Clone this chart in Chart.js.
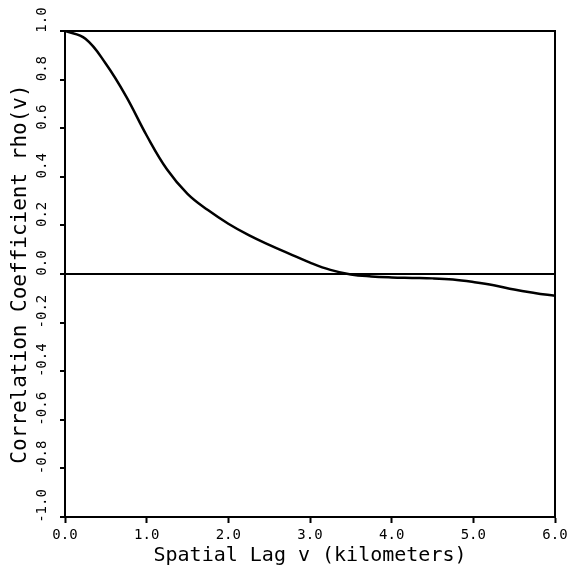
<!DOCTYPE html>
<html>
<head>
<meta charset="utf-8">
<script src="https://cdn.jsdelivr.net/npm/chart.js@4/dist/chart.umd.min.js"></script>
<style>
  html, body { margin: 0; padding: 0; background: #fff; }
  #wrap { width: 576px; height: 578px; }
</style>
</head>
<body>
<div id="wrap"><canvas id="chart"></canvas></div>
<script>
// spatial lag (km) and correlation coefficient
const lags = [0, 0.25, 0.5, 0.75, 1.0, 1.25, 1.5, 1.75, 2.0, 2.25, 2.5, 2.75, 3.0,
  3.25, 3.5, 3.75, 4.0, 4.25, 4.5, 4.75, 5.0, 5.25, 5.5, 5.75, 6.0]
const rho = [1.0, 0.968, 0.865, 0.73, 0.57, 0.43, 0.33, 0.263, 0.207, 0.16, 0.12, 0.083, 0.047,
  0.017, -0.002, -0.01, -0.014, -0.016, -0.018, -0.023, -0.033, -0.046, -0.064, -0.078, -0.09]

const xTicks = [0, 1, 2, 3, 4, 5, 6]
const yTicks = [-1.0, -0.8, -0.6, -0.4, -0.2, 0.0, 0.2, 0.4, 0.6, 0.8, 1.0]

const mono = '"DejaVu Sans Mono", monospace'

// box around the plot area
const frame = {
  id: 'frame',
  afterDraw (chart) {
    const { ctx, chartArea: a } = chart
    ctx.save()
    ctx.strokeStyle = '#000'
    ctx.lineWidth = 2
    ctx.strokeRect(a.left, a.top, a.right - a.left, a.bottom - a.top)
    ctx.restore()
  }
}

new Chart(document.getElementById('chart'), {
  type: 'line',
  data: {
    datasets: [{
      data: lags.map((x, i) => ({ x: x, y: rho[i] })),
      borderColor: '#000',
      borderWidth: 2.5,
      pointRadius: 0,
      tension: 0.4,
      fill: false
    }]
  },
  options: {
    responsive: true,
    maintainAspectRatio: false,
    animation: false,
    layout: { padding: { top: 31, right: 21, left: 0, bottom: 0 } },
    plugins: { legend: { display: false }, tooltip: { enabled: false } },
    scales: {
      x: {
        type: 'linear',
        min: 0,
        max: 6,
        afterBuildTicks (s) { s.ticks = xTicks.map(v => ({ value: v })) },
        afterFit (s) { s.height = 61 },
        border: { color: '#000', width: 2 },
        grid: { drawOnChartArea: false, tickLength: 6, tickColor: '#000', tickWidth: 2 },
        ticks: {
          color: '#000',
          padding: 4,
          font: { family: mono, size: 14 },
          callback: v => v.toFixed(1)
        },
        title: {
          display: true,
          text: 'Spatial Lag v (kilometers)',
          color: '#000',
          font: { family: mono, size: 20 },
          padding: { top: 0, bottom: 10 }
        }
      },
      y: {
        min: -1,
        max: 1,
        afterBuildTicks (s) { s.ticks = yTicks.map(v => ({ value: v })) },
        afterFit (s) { s.width = 65 },
        border: { color: '#000', width: 2 },
        grid: {
          tickLength: 5,
          tickColor: '#000',
          tickWidth: 2,
          lineWidth: 2,
          color: c => (c.tick && c.tick.value === 0 ? '#000' : 'rgba(0,0,0,0)')
        },
        ticks: {
          color: '#000',
          padding: 1,
          minRotation: 90,
          maxRotation: 90,
          crossAlign: 'center',
          labelOffset: -11,
          font: { family: mono, size: 14 },
          callback: v => v.toFixed(1)
        },
        title: {
          display: true,
          text: 'Correlation Coefficient rho(v)',
          color: '#000',
          font: { family: mono, size: 21 },
          padding: { top: 8, bottom: 0 }
        }
      }
    }
  },
  plugins: [frame]
})
</script>
</body>
</html>
